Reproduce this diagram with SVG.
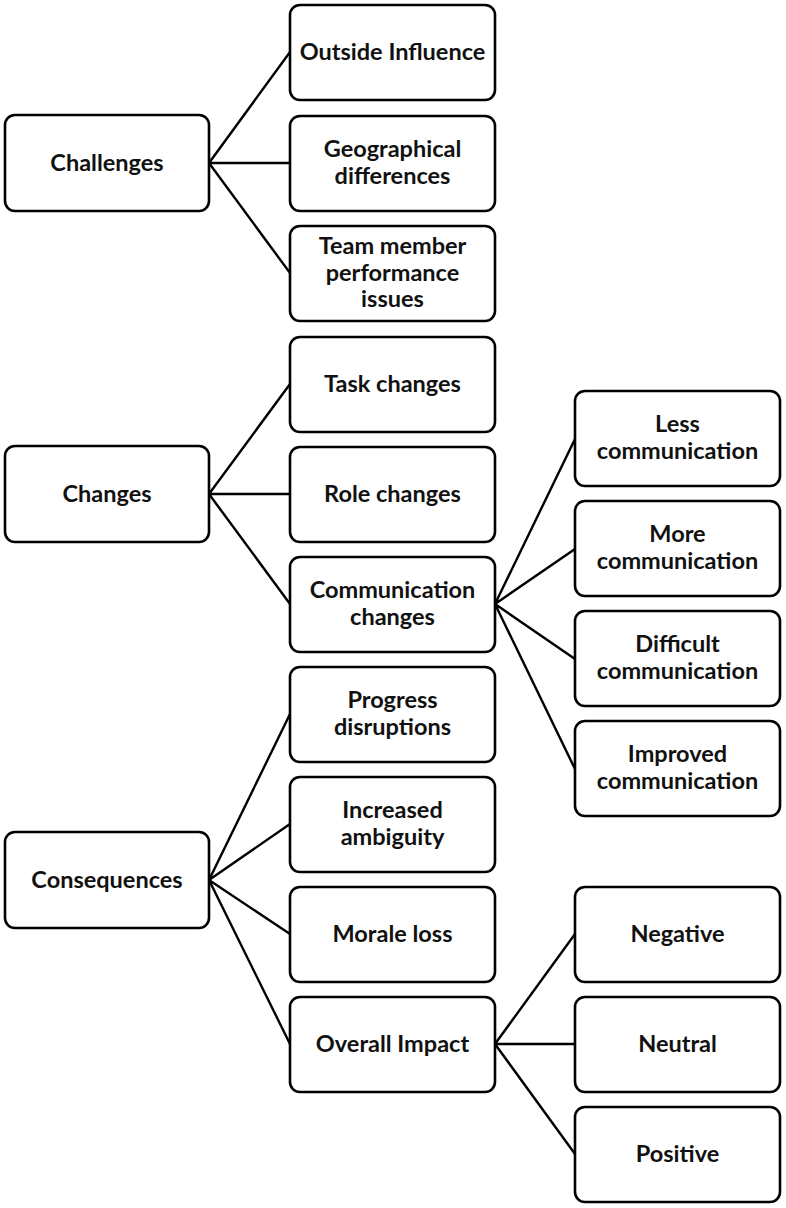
<svg xmlns="http://www.w3.org/2000/svg" width="786" height="1208" viewBox="0 0 786 1208">
<style>
.box{fill:#fff;stroke:#000;stroke-width:2.6}
.t{font-family:Lato,"Open Sans","Liberation Sans",sans-serif;font-weight:bold;font-size:23.5px;text-anchor:middle;fill:#111}
.c{stroke:#000;stroke-width:2.4;fill:none}
</style>
<rect width="786" height="1208" fill="#fff"/>
<g id="connectors">
<path class="c" d="M209,163 L290,52 M209,163 L290,163 M209,163 L290,273"/>
<path class="c" d="M209,494 L290,384 M209,494 L290,494 M209,494 L290,604"/>
<path class="c" d="M495,604 L575,439 M495,604 L575,549 M495,604 L575,659 M495,604 L575,769"/>
<path class="c" d="M209,880 L290,714 M209,880 L290,824 M209,880 L290,934 M209,880 L290,1044"/>
<path class="c" d="M495,1044 L575,934 M495,1044 L575,1044 M495,1044 L575,1154"/>
</g>
<g id="challenges"><rect class="box" x="5" y="115" width="204" height="96" rx="10"/><text class="t" x="107" y="171">Challenges</text></g>
<g id="outside"><rect class="box" x="290" y="5" width="205" height="95" rx="10"/><text class="t" x="392.5" y="60">Outside Influence</text></g>
<g id="geo"><rect class="box" x="290" y="116" width="205" height="95" rx="10"/><text class="t" x="392.5" y="157">Geographical</text><text class="t" x="392.5" y="184">differences</text></g>
<g id="team"><rect class="box" x="290" y="226" width="205" height="95" rx="10"/><text class="t" x="392.5" y="254">Team member</text><text class="t" x="392.5" y="281">performance</text><text class="t" x="392.5" y="307">issues</text></g>
<g id="changes"><rect class="box" x="5" y="446" width="204" height="96" rx="10"/><text class="t" x="107" y="502">Changes</text></g>
<g id="task"><rect class="box" x="290" y="337" width="205" height="95" rx="10"/><text class="t" x="392.5" y="392">Task changes</text></g>
<g id="role"><rect class="box" x="290" y="447" width="205" height="95" rx="10"/><text class="t" x="392.5" y="502">Role changes</text></g>
<g id="comm"><rect class="box" x="290" y="557" width="205" height="95" rx="10"/><text class="t" x="392.5" y="598">Communication</text><text class="t" x="392.5" y="625">changes</text></g>
<g id="less"><rect class="box" x="575" y="391" width="205" height="95" rx="10"/><text class="t" x="677.5" y="432">Less</text><text class="t" x="677.5" y="459">communication</text></g>
<g id="more"><rect class="box" x="575" y="501" width="205" height="95" rx="10"/><text class="t" x="677.5" y="542">More</text><text class="t" x="677.5" y="569">communication</text></g>
<g id="difficult"><rect class="box" x="575" y="611" width="205" height="95" rx="10"/><text class="t" x="677.5" y="652">Difficult</text><text class="t" x="677.5" y="679">communication</text></g>
<g id="improved"><rect class="box" x="575" y="721" width="205" height="95" rx="10"/><text class="t" x="677.5" y="762">Improved</text><text class="t" x="677.5" y="789">communication</text></g>
<g id="consequences"><rect class="box" x="5" y="832" width="204" height="96" rx="10"/><text class="t" x="107" y="888">Consequences</text></g>
<g id="progress"><rect class="box" x="290" y="667" width="205" height="95" rx="10"/><text class="t" x="392.5" y="708">Progress</text><text class="t" x="392.5" y="735">disruptions</text></g>
<g id="ambiguity"><rect class="box" x="290" y="777" width="205" height="95" rx="10"/><text class="t" x="392.5" y="818">Increased</text><text class="t" x="392.5" y="845">ambiguity</text></g>
<g id="morale"><rect class="box" x="290" y="887" width="205" height="95" rx="10"/><text class="t" x="392.5" y="942">Morale loss</text></g>
<g id="overall"><rect class="box" x="290" y="997" width="205" height="95" rx="10"/><text class="t" x="392.5" y="1052">Overall Impact</text></g>
<g id="negative"><rect class="box" x="575" y="887" width="205" height="95" rx="10"/><text class="t" x="677.5" y="942">Negative</text></g>
<g id="neutral"><rect class="box" x="575" y="997" width="205" height="95" rx="10"/><text class="t" x="677.5" y="1052">Neutral</text></g>
<g id="positive"><rect class="box" x="575" y="1107" width="205" height="95" rx="10"/><text class="t" x="677.5" y="1162">Positive</text></g>
</svg>
